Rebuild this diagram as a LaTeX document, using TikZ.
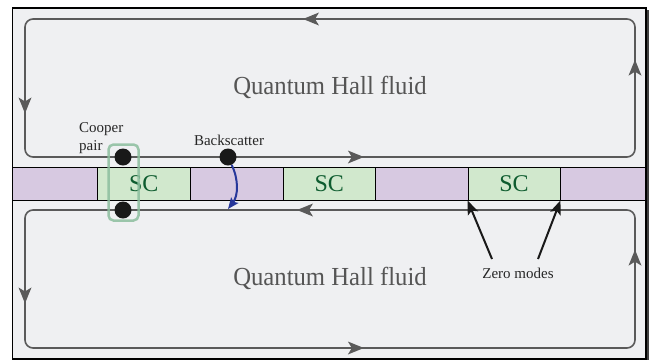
\documentclass[tikz,border=0pt]{standalone}
\usepackage{fontspec}
\setmainfont{Liberation Serif}
\usetikzlibrary{arrows.meta,decorations.markings}
\definecolor{bgc}{HTML}{EFF0F2}
\definecolor{linegray}{HTML}{5A5A5A}
\definecolor{purp}{HTML}{D7C9E1}
\definecolor{scgreen}{HTML}{D1E8CD}
\definecolor{sctext}{HTML}{0E5C2F}
\definecolor{coopgreen}{HTML}{8CBE9E}
\definecolor{bsblue}{HTML}{26379A}
\definecolor{qhtext}{HTML}{555555}
\newcommand{\flowarrow}{\fill[linegray, sharp corners] (2pt,0) -- (-14pt,6.5pt) -- (-10pt,0) -- (-14pt,-6.5pt) -- cycle;}
\tikzset{
  loopline/.style={draw=linegray, line width=1.6pt, rounded corners=8pt},
  seg/.style={draw=black, line width=0.9pt, inner sep=0pt, minimum height=33pt},
  purpseg/.style={seg, fill=purp},
  scseg/.style={seg, fill=scgreen, text=sctext, font=\fontsize{24}{26}\selectfont},
  dotnode/.style={circle, fill=black!90, inner sep=0pt, minimum size=17pt},
  smalllabel/.style={text=black!85, font=\fontsize{15}{18}\selectfont, inner sep=0pt},
  qhlabel/.style={text=qhtext, font=\fontsize{26}{28}\selectfont, inner sep=0pt},
  zmarrow/.style={draw=black!90, line width=2pt, -{Stealth[length=14pt,width=11pt,inset=3pt]}},
  bsarrow/.style={draw=bsblue, line width=2pt, -{Stealth[length=11pt,width=9pt,inset=2pt]}}
}
\begin{document}
\begin{tikzpicture}[x=1pt,y=-1pt]
\useasboundingbox (0,0) rectangle (651,360);
% shadow and frame
\fill[black!75] (14.5,10) rectangle (648.5,360);
\fill[bgc] (12.5,8) rectangle (646,359);
% strip
\node[purpseg, minimum width=85pt]   (p1)  at (55,183.5) {};
\node[scseg,   minimum width=92.5pt] (sc1) at (143.75,183.5) {SC};
\node[purpseg, minimum width=93pt]   (p2)  at (236.5,183.5) {};
\node[scseg,   minimum width=92.5pt] (sc2) at (329.25,183.5) {SC};
\node[purpseg, minimum width=92.5pt] (p3)  at (421.75,183.5) {};
\node[scseg,   minimum width=92pt]   (sc3) at (514,183.5) {SC};
\node[purpseg, minimum width=86pt]   (p4)  at (603,183.5) {};
\draw[black, line width=1.5pt] (12.5,8) rectangle (646,359);
% edge loops
\draw[loopline, postaction={decorate}, decoration={markings,
  mark=at position 322pt with {\flowarrow},
  mark=at position 691pt with {\flowarrow},
  mark=at position 1070pt with {\flowarrow},
  mark=at position 1435pt with {\flowarrow}}]
  (635,19) -- (25,19) -- (25,157) -- (635,157) -- cycle;
\draw[loopline, postaction={decorate}, decoration={markings,
  mark=at position 328pt with {\flowarrow},
  mark=at position 690pt with {\flowarrow},
  mark=at position 1070pt with {\flowarrow},
  mark=at position 1436pt with {\flowarrow}}]
  (635,210) -- (25,210) -- (25,348) -- (635,348) -- cycle;
% texts
\node[qhlabel] (qh1) at (330,87) {\scalebox{0.95}[1]{Quantum Hall fluid}};
\node[qhlabel] (qh2) at (330,278) {\scalebox{0.95}[1]{Quantum Hall fluid}};
% cooper pair
\node[draw=coopgreen, line width=2.5pt, rounded corners=5pt, inner sep=0pt,
      minimum width=30pt, minimum height=76pt, opacity=0.85] (cbox) at (123.5,182.5) {};
\node[dotnode] (cp1) at (123,157) {};
\node[dotnode] (cp2) at (123,210) {};
\node[smalllabel, align=left, anchor=west] (cplabel) at (79,138) {Cooper\\pair};
% backscatter
\node[dotnode] (bsdot) at (228,157) {};
\node[smalllabel] (bslabel) at (229,140) {Backscatter};
\coordinate (bsend) at (228,209);
\draw[bsarrow] (bsdot.-65) .. controls (239,180) and (238,196) .. (bsend);
% zero modes
\node[smalllabel] (zmlabel) at (518,273) {Zero modes};
\coordinate (zm1s) at (492,259);
\coordinate (zm2s) at (538,259);
\draw[zmarrow] (zm1s) -- (sc3.south west);
\draw[zmarrow] (zm2s) -- (sc3.south east);
\end{tikzpicture}
\end{document}
